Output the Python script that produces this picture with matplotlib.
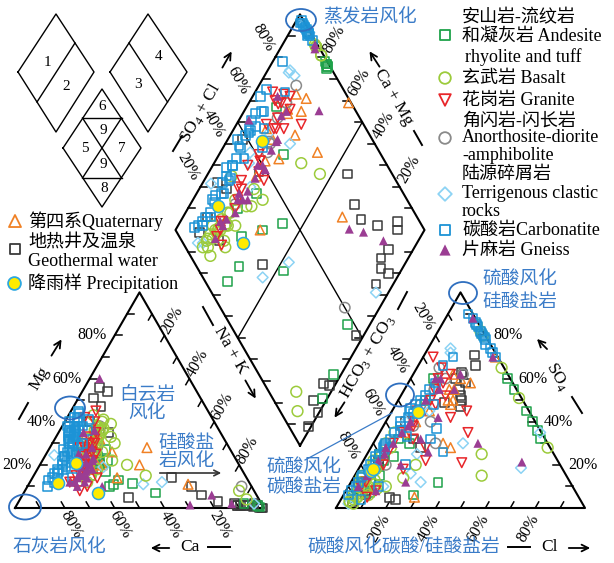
import numpy as np
import matplotlib.pyplot as plt
from matplotlib.patches import Ellipse

plt.rcParams['font.family'] = ['Liberation Serif', 'Noto Sans CJK SC']
plt.rcParams['mathtext.fontset'] = 'custom'
plt.rcParams['mathtext.rm'] = 'Liberation Serif'

# ---- sample data (meq fractions): Ca, Mg (Na+K = rest); SO4, Cl (HCO3 = rest)
carb_ca = [0.58, 0.60, 0.55, 0.62, 0.57, 0.52, 0.60, 0.56, 0.50, 0.63, 0.54, 0.59, 0.53, 0.61,
           0.62, 0.58, 0.66, 0.55, 0.70, 0.60, 0.64, 0.52, 0.68, 0.72, 0.57, 0.63, 0.75, 0.61,
           0.67, 0.54, 0.59, 0.71, 0.78, 0.65, 0.56, 0.69, 0.74, 0.60, 0.66, 0.80, 0.62, 0.58,
           0.70, 0.64, 0.60, 0.58, 0.63, 0.78, 0.74, 0.70, 0.82, 0.68, 0.76]
carb_mg = [0.40, 0.38, 0.42, 0.33, 0.37, 0.44, 0.35, 0.36, 0.41, 0.30, 0.38, 0.33, 0.36, 0.31,
           0.30, 0.36, 0.26, 0.40, 0.22, 0.33, 0.28, 0.45, 0.24, 0.18, 0.38, 0.31, 0.16, 0.35,
           0.27, 0.42, 0.34, 0.20, 0.14, 0.25, 0.37, 0.21, 0.17, 0.29, 0.23, 0.13, 0.32, 0.35,
           0.19, 0.26, 0.36, 0.30, 0.25, 0.12, 0.18, 0.14, 0.10, 0.24, 0.16]
carb_so4 = [0.90, 0.86, 0.84, 0.82, 0.80, 0.78, 0.88, 0.76, 0.74, 0.72, 0.81, 0.79, 0.70, 0.85,
            0.35, 0.42, 0.28, 0.50, 0.20, 0.45, 0.32, 0.55, 0.25, 0.15, 0.48, 0.38, 0.12, 0.40,
            0.30, 0.58, 0.44, 0.18, 0.08, 0.27, 0.52, 0.22, 0.10, 0.36, 0.24, 0.06, 0.46, 0.33,
            0.14, 0.29, 0.70, 0.66, 0.37, 0.04, 0.20, 0.32, 0.10, 0.48, 0.26]
carb_cl = [0.08, 0.13, 0.15, 0.17, 0.19, 0.21, 0.11, 0.22, 0.25, 0.27, 0.18, 0.20, 0.29, 0.14,
           0.06, 0.08, 0.05, 0.09, 0.04, 0.07, 0.06, 0.10, 0.05, 0.03, 0.08, 0.07, 0.03, 0.06,
           0.05, 0.11, 0.09, 0.04, 0.02, 0.06, 0.10, 0.05, 0.03, 0.08, 0.04, 0.02, 0.07, 0.12,
           0.03, 0.05, 0.12, 0.10, 0.22, 0.08, 0.18, 0.22, 0.12, 0.15, 0.30]

geo_ca = [0.30, 0.24, 0.22, 0.17, 0.11, 0.10, 0.09, 0.10, 0.075, 0.04, 0.06,
          0.03, 0.005, 0.01, 0.02, 0.04, 0.02, 0.36, 0.43, 0.42, 0.52, 0.38, 0.45, 0.55, 0.50]
geo_mg = [0.14, 0.10, 0.06, 0.03, 0.02, 0.01, 0.01, 0.01, 0.01, 0.005, 0.01,
          0.02, 0.0, 0.0, 0.01, 0.01, 0.0, 0.54, 0.51, 0.47, 0.05, 0.56, 0.35, 0.25, 0.40]
geo_so4 = [0.62, 0.60, 0.55, 0.63, 0.71, 0.66, 0.58, 0.52, 0.47, 0.50, 0.49,
           0.08, 0.06, 0.03, 0.28, 0.05, 0.04, 0.12, 0.22, 0.25, 0.20, 0.40, 0.32, 0.12, 0.05]
geo_cl = [0.20, 0.18, 0.22, 0.19, 0.20, 0.23, 0.23, 0.24, 0.265, 0.255, 0.19,
          0.08, 0.09, 0.05, 0.20, 0.19, 0.22, 0.04, 0.06, 0.05, 0.07, 0.08, 0.15, 0.03, 0.04]

and_ca = [0.55, 0.60, 0.58, 0.50, 0.62, 0.55, 0.55, 0.40, 0.57, 0.47, 0.52, 0.07, 0.60,
          0.52, 0.56, 0.62, 0.55, 0.015, 0.02]
and_mg = [0.24, 0.18, 0.20, 0.27, 0.15, 0.22, 0.11, 0.07, 0.10, 0.115, 0.13, 0.02, 0.28,
          0.22, 0.20, 0.18, 0.17, 0.005, 0.01]
and_so4 = [0.60, 0.55, 0.45, 0.40, 0.36, 0.32, 0.07, 0.06, 0.05, 0.30, 0.24, 0.12, 0.60,
           0.50, 0.32, 0.22, 0.15, 0.12, 0.25]
and_cl = [0.39, 0.44, 0.54, 0.59, 0.63, 0.66, 0.10, 0.28, 0.04, 0.145, 0.11, 0.35, 0.09,
          0.11, 0.09, 0.08, 0.10, 0.08, 0.05]

bas_ca = [0.50, 0.48, 0.45, 0.52, 0.47, 0.55, 0.44, 0.50, 0.53, 0.46, 0.49, 0.58, 0.42, 0.51,
          0.60, 0.47, 0.54, 0.56, 0.62, 0.48, 0.45, 0.52, 0.55, 0.50, 0.60, 0.52, 0.58, 0.48,
          0.40, 0.45, 0.05, 0.06, 0.55, 0.62, 0.50, 0.58, 0.45, 0.65]
bas_mg = [0.35, 0.38, 0.40, 0.30, 0.36, 0.28, 0.41, 0.33, 0.31, 0.37, 0.34, 0.25, 0.39, 0.32,
          0.22, 0.43, 0.27, 0.29, 0.18, 0.36, 0.33, 0.26, 0.32, 0.36, 0.26, 0.30, 0.24, 0.38,
          0.15, 0.20, 0.04, 0.08, 0.25, 0.15, 0.22, 0.18, 0.30, 0.12]
bas_so4 = [0.08, 0.12, 0.05, 0.15, 0.10, 0.20, 0.06, 0.25, 0.09, 0.14, 0.04, 0.18, 0.11, 0.07,
           0.22, 0.30, 0.13, 0.03, 0.16, 0.09, 0.35, 0.12, 0.82, 0.80, 0.65, 0.51, 0.28, 0.85,
           0.25, 0.15, 0.03, 0.05, 0.02, 0.10, 0.20, 0.06, 0.28, 0.14]
bas_cl = [0.05, 0.04, 0.06, 0.03, 0.08, 0.05, 0.04, 0.06, 0.07, 0.03, 0.05, 0.07, 0.10, 0.06,
          0.04, 0.05, 0.09, 0.04, 0.06, 0.12, 0.06, 0.05, 0.17, 0.19, 0.34, 0.48, 0.71, 0.14,
          0.46, 0.51, 0.04, 0.06, 0.06, 0.15, 0.22, 0.10, 0.08, 0.20]

gra_ca = [0.55, 0.60, 0.50, 0.58, 0.62, 0.52, 0.65, 0.57, 0.48, 0.61, 0.54,
          0.66, 0.59, 0.53, 0.63, 0.56, 0.70, 0.51, 0.64, 0.58, 0.60, 0.45,
          0.68, 0.72, 0.62, 0.66, 0.58, 0.70, 0.60, 0.55]
gra_mg = [0.30, 0.25, 0.35, 0.28, 0.20, 0.32, 0.18, 0.27, 0.40, 0.24, 0.33,
          0.16, 0.22, 0.30, 0.19, 0.26, 0.12, 0.42, 0.21, 0.30, 0.28, 0.45,
          0.15, 0.12, 0.20, 0.10, 0.22, 0.08, 0.14, 0.25]
gra_so4 = [0.55, 0.45, 0.62, 0.35, 0.25, 0.50, 0.15, 0.40, 0.65, 0.30, 0.58,
           0.10, 0.20, 0.48, 0.70, 0.38, 0.12, 0.60, 0.27, 0.35, 0.21, 0.52,
           0.18, 0.08, 0.28, 0.22, 0.32, 0.05, 0.45, 0.42]
gra_cl = [0.12, 0.10, 0.15, 0.09, 0.07, 0.13, 0.06, 0.11, 0.10, 0.08, 0.14,
          0.05, 0.09, 0.16, 0.04, 0.12, 0.06, 0.11, 0.08, 0.355, 0.40, 0.18,
          0.18, 0.12, 0.22, 0.25, 0.15, 0.10, 0.30, 0.25]

ano_ca = [0.55, 0.50, 0.58, 0.52, 0.47, 0.60, 0.04, 0.53, 0.62]
ano_mg = [0.30, 0.35, 0.25, 0.33, 0.38, 0.22, 0.10, 0.28, 0.20]
ano_so4 = [0.55, 0.60, 0.48, 0.62, 0.65, 0.40, 0.38, 0.30, 0.20]
ano_cl = [0.12, 0.14, 0.10, 0.20, 0.09, 0.18, 0.12, 0.25, 0.10]

ter_ca = [0.72, 0.43, 0.35, 0.65, 0.60, 0.55, 0.03, 0.62, 0.60, 0.66, 0.58, 0.70, 0.62, 0.55, 0.68]
ter_mg = [0.245, 0.11, 0.12, 0.26, 0.31, 0.19, 0.02, 0.30, 0.28, 0.20, 0.30, 0.18, 0.24, 0.30, 0.12]
ter_so4 = [0.20, 0.10, 0.16, 0.72, 0.74, 0.54, 0.30, 0.35, 0.186, 0.05, 0.40, 0.02, 0.25, 0.45, 0.12]
ter_cl = [0.05, 0.14, 0.22, 0.10, 0.09, 0.12, 0.36, 0.645, 0.65, 0.03, 0.08, 0.04, 0.20, 0.15, 0.28]

gne_ca = [0.62, 0.65, 0.58, 0.68, 0.60, 0.63, 0.66, 0.57, 0.70, 0.61, 0.64,
          0.59, 0.67, 0.55, 0.36, 0.29, 0.18, 0.12, 0.60, 0.55, 0.62, 0.50,
          0.66, 0.70, 0.60, 0.64, 0.58, 0.72]
gne_mg = [0.18, 0.15, 0.22, 0.14, 0.20, 0.17, 0.16, 0.23, 0.12, 0.21, 0.19,
          0.25, 0.15, 0.28, 0.60, 0.014, 0.06, 0.02, 0.10, 0.35, 0.25, 0.36,
          0.12, 0.10, 0.18, 0.14, 0.22, 0.12]
gne_so4 = [0.30, 0.22, 0.40, 0.15, 0.35, 0.45, 0.25, 0.50, 0.10, 0.38, 0.28,
           0.55, 0.18, 0.60, 0.45, 0.60, 0.55, 0.62, 0.213, 0.30, 0.88, 0.70,
           0.20, 0.12, 0.32, 0.26, 0.42, 0.08]
gne_cl = [0.08, 0.06, 0.10, 0.05, 0.09, 0.12, 0.07, 0.11, 0.04, 0.10, 0.06,
          0.14, 0.05, 0.12, 0.10, 0.10, 0.20, 0.19, 0.64, 0.42, 0.11, 0.28,
          0.16, 0.22, 0.18, 0.24, 0.20, 0.12]

qua_ca = [0.33, 0.25, 0.52, 0.40, 0.60, 0.55, 0.62, 0.58, 0.65, 0.50, 0.57, 0.63, 0.55, 0.48, 0.60]
qua_mg = [0.28, 0.11, 0.14, 0.20, 0.22, 0.28, 0.18, 0.25, 0.15, 0.32, 0.20, 0.24, 0.20, 0.26, 0.18]
qua_so4 = [0.55, 0.50, 0.05, 0.70, 0.45, 0.55, 0.40, 0.60, 0.35, 0.50, 0.62, 0.28, 0.30, 0.48, 0.58]
qua_cl = [0.20, 0.20, 0.29, 0.29, 0.15, 0.18, 0.12, 0.20, 0.10, 0.22, 0.16, 0.32, 0.28, 0.22, 0.25]

pre_ca = [0.65, 0.77, 0.63]
pre_mg = [0.21, 0.116, 0.07]
pre_so4 = [0.445, 0.172, 0.18]
pre_cl = [0.107, 0.055, 0.06]

BLUE = '#3B7CC8'

# ---- geometry (pixel space)
S = 249.0
H = S * np.sqrt(3) / 2
CX0, CY0 = 15.0, 508.0
AX0 = 336.0
BX = (CX0 + S + AX0) / 2
BY = CY0 - (AX0 - CX0 - S) / 2 * np.sqrt(3)


def cat_xy(ca, mg):
    ca, mg = np.asarray(ca), np.asarray(mg)
    nak = 1 - ca - mg
    return CX0 + S * (nak + mg / 2), CY0 - H * mg


def an_xy(so4, cl):
    so4, cl = np.asarray(so4), np.asarray(cl)
    return AX0 + S * (cl + so4 / 2), CY0 - H * so4


def dia_xy(c, s):
    c, s = np.asarray(c), np.asarray(s)
    return BX + S / 2 * (s - c), BY - H * (s + c)


fig = plt.figure(figsize=(6.14, 5.63), dpi=100)
ax = fig.add_axes([0, 0, 1, 1])
ax.set_xlim(0, 614)
ax.set_ylim(563, 0)
ax.axis('off')

lk = dict(color='black', lw=1.5, zorder=1)
# frames
ax.plot([CX0, CX0 + S, CX0 + S / 2, CX0], [CY0, CY0, CY0 - H, CY0], **lk)
ax.plot([AX0, AX0 + S, AX0 + S / 2, AX0], [CY0, CY0, CY0 - H, CY0], **lk)
dx, dy = dia_xy([0, 0, 1, 1, 0], [0, 1, 1, 0, 0])
ax.plot(dx, dy, **lk)
for c0, s0, c1, s1 in [(1, 0.5, 0, 0.5), (0.5, 1, 0.5, 0)]:
    p0, p1 = dia_xy(c0, s0), dia_xy(c1, s1)
    ax.plot([p0[0], p1[0]], [p0[1], p1[1]], color='black', lw=1.0, zorder=1)


def ticks(fn, d, L=7):
    for k in range(1, 10):
        x, y = fn(k / 10)
        ax.plot([x, x + d[0] * L], [y, y + d[1] * L], color='black', lw=1.1, zorder=1)


ticks(lambda v: cat_xy(v, 0), (-0.5, -0.866))
ticks(lambda v: cat_xy(1 - v, v), (1, 0))
ticks(lambda v: cat_xy(0, 1 - v), (-0.5, 0.866))
ticks(lambda v: an_xy(0, v), (0.5, -0.866))
ticks(lambda v: an_xy(1 - v, 0), (0.5, 0.866))
ticks(lambda v: an_xy(v, 1 - v), (-1, 0))
ticks(lambda v: dia_xy(1, v), (1, 0))
ticks(lambda v: dia_xy(v, 1), (-1, 0))
ticks(lambda v: dia_xy(v, 0), (1, 0))
ticks(lambda v: dia_xy(0, v), (-1, 0))

tf = dict(fontsize=11.5, ha='center', va='center', zorder=6)
for v in [0.2, 0.4, 0.6, 0.8]:
    lab = '%d%%' % round(v * 100)
    x, y = cat_xy(v, 0); ax.text(x + 6, y + 17, lab, rotation=-60, **tf)
    x, y = cat_xy(1 - v, v); ax.text(x - 23, y, lab, **tf)
    x, y = cat_xy(0, 1 - v); ax.text(x + 8, y - 15, lab, rotation=60, **tf)
    x, y = an_xy(0, v); ax.text(x - 7, y + 20, lab, rotation=60, **tf)
    x, y = an_xy(1 - v, 0); ax.text(x - 13, y - 19, lab, rotation=-60, **tf)
    x, y = an_xy(v, 1 - v); ax.text(x + 23, y, lab, **tf)
    x, y = dia_xy(1, v); ax.text(x - 12, y - 20, lab, rotation=-60, **tf)
    x, y = dia_xy(v, 1); ax.text(x + 9, y - 18, lab, rotation=60, **tf)

# axis names, dashes and arrows
af = dict(fontsize=12.5, ha='center', va='center', zorder=6)
arr = dict(arrowstyle='->', lw=1.3, color='black', mutation_scale=12)


def dash(x0, y0, x1, y1):
    ax.plot([x0, x1], [y0, y1], color='black', lw=1.4, zorder=6)


def arrow(x0, y0, x1, y1):
    ax.annotate('', xy=(x1, y1), xytext=(x0, y0), arrowprops=arr, zorder=6)


ax.text(40, 378, 'Mg', rotation=60, **af); dash(19, 419, 28, 403); arrow(50, 358, 63, 337)
ax.text(190, 547, 'Ca', **af); arrow(172, 548, 148, 548); dash(208, 547, 230, 547)
ax.text(230, 350, 'Na + K', rotation=-60, **af); dash(203, 307, 213, 325); arrow(244, 378, 257, 401)
ax.text(200, 113, r'SO$_4$ + Cl', rotation=60, **af); dash(182, 136, 173, 151); arrow(221, 70, 233, 49)
ax.text(393, 97, 'Ca + Mg', rotation=-60, **af); arrow(381, 69, 368, 49); dash(414, 131, 422, 145)
ax.text(368, 357, r'HCO$_3$ + CO$_3$', rotation=60, **af); dash(407, 292, 398, 309); arrow(346, 400, 333, 420)
ax.text(557, 377, r'SO$_4$', rotation=-60, **af); arrow(549, 351, 535, 337); dash(572, 397, 582, 413)
ax.text(550, 547, 'Cl', **af); dash(508, 547, 530, 547); arrow(566, 548, 593, 548)

# ---- samples
groups = [
    (geo_ca, geo_mg, geo_so4, geo_cl, dict(marker='s', facecolors='none', edgecolors='#3a3a3a', s=40)),
    (and_ca, and_mg, and_so4, and_cl, dict(marker='s', facecolors='none', edgecolors='#1FA24A', s=40)),
    (qua_ca, qua_mg, qua_so4, qua_cl, dict(marker='^', facecolors='none', edgecolors='#F08125', s=48)),
    (ter_ca, ter_mg, ter_so4, ter_cl, dict(marker='D', facecolors='none', edgecolors='#8CD3F4', s=30)),
    (ano_ca, ano_mg, ano_so4, ano_cl, dict(marker='o', facecolors='none', edgecolors='#8A8A8A', s=55)),
    (bas_ca, bas_mg, bas_so4, bas_cl, dict(marker='o', facecolors='none', edgecolors='#9CCB3B', s=60)),
    (gra_ca, gra_mg, gra_so4, gra_cl, dict(marker='v', facecolors='none', edgecolors='#E8262A', s=48)),
    (carb_ca, carb_mg, carb_so4, carb_cl, dict(marker='s', facecolors='none', edgecolors='#1C93D6', s=40)),
    (gne_ca, gne_mg, gne_so4, gne_cl, dict(marker='^', facecolors='#9B3D93', edgecolors='none', s=42)),
    (pre_ca, pre_mg, pre_so4, pre_cl, dict(marker='o', facecolors='#FFEB00', edgecolors='#2DA8E0', s=75)),
]
for ca, mg, so4, cl, kw in groups:
    c = np.add(ca, mg)
    s = np.add(so4, cl)
    for x, y in (cat_xy(ca, mg), an_xy(so4, cl), dia_xy(c, s)):
        ax.scatter(x, y, linewidths=1.1, zorder=3, **kw)

# ---- blue annotations
bt = dict(color=BLUE, fontsize=13.5, va='center', zorder=7)
ax.text(323, 17, '蒸发岩风化', ha='left', **bt)
ax.text(147, 395, '白云岩', ha='center', **bt)
ax.text(147, 414, '风化', ha='center', **bt)
ax.text(187, 443, '硅酸盐', ha='center', **bt)
ax.text(187, 462, '岩风化', ha='center', **bt)
ax.annotate('', xy=(224, 473), xytext=(157, 473),
            arrowprops=dict(arrowstyle='->', lw=1.2, color='#333333'), zorder=7)
ax.text(13, 548, '石灰岩风化', ha='left', **bt)
ax.text(482, 280, '硫酸风化', ha='left', **bt)
ax.text(482, 302, '硅酸盐岩', ha='left', **bt)
ax.text(304, 468, '硫酸风化', ha='center', **bt)
ax.text(304, 487, '碳酸盐岩', ha='center', **bt)
ax.text(307, 547, '碳酸风化碳酸/硅酸盐岩', ha='left', **bt)
ax.plot([392, 305], [413, 460], color=BLUE, lw=0.9, zorder=7)
for xc, yc, w, h in [(301, 20, 30, 22), (70, 408, 30, 23), (25, 507, 32, 25),
                     (463, 293, 28, 22), (400, 395, 28, 23)]:
    ax.add_patch(Ellipse((xc, yc), w, h, fill=False, edgecolor='#2F6FBF', lw=1.3, zorder=7))

# ---- small key diagrams (top left)
kl = dict(color='black', lw=1.0, zorder=1)
ax.plot([18, 56, 94, 56, 18], [72, 14, 72, 132, 72], **kl)
ax.plot([75, 37], [43, 102], **kl)
ax.plot([110, 148, 187, 148, 110], [72, 14, 72, 132, 72], **kl)
ax.plot([129, 167.5], [43, 102], **kl)
ax.plot([63, 102, 141, 102, 63], [148, 89, 148, 207, 148], **kl)
ax.plot([82.5, 121.5], [118, 118], **kl)
ax.plot([82.5, 121.5], [178, 178], **kl)
ax.plot([82.5, 121.5], [118, 178], **kl)
ax.plot([121.5, 82.5], [118, 178], **kl)
nf = dict(fontsize=11, ha='center', va='center')
for t, x, y in [('1', 47, 62), ('2', 66, 87), ('4', 159, 57), ('3', 138, 85),
                ('6', 102, 106), ('9', 103, 130), ('5', 85, 148), ('7', 122, 148),
                ('9', 103, 165), ('8', 104, 189)]:
    ax.text(x, y, t, **nf)

# ---- legends
lf = dict(fontsize=13, ha='left', va='center', zorder=7)
ax.scatter([15], [221], marker='^', facecolors='none', edgecolors='#F08125', s=75, linewidths=1.3)
ax.text(28, 221, '第四系Quaternary', **lf)
ax.scatter([15], [249], marker='s', facecolors='none', edgecolors='#3a3a3a', s=60, linewidths=1.3)
ax.text(28, 243, '地热井及温泉', **lf)
ax.text(28, 262, 'Geothermal water', **lf)
ax.scatter([14], [283], marker='o', facecolors='#FFEB00', edgecolors='#2DA8E0', s=85, linewidths=1.3)
ax.text(28, 283, '降雨样 Precipitation', **lf)

ax.text(462, 18, '安山岩-流纹岩', **lf)
ax.scatter([445], [35], marker='s', facecolors='none', edgecolors='#1FA24A', s=60, linewidths=1.3)
ax.text(462, 36, '和凝灰岩 Andesite', **lf)
ax.text(465, 57, 'rhyolite and tuff', **lf)
ax.scatter([445], [78], marker='o', facecolors='none', edgecolors='#9CCB3B', s=70, linewidths=1.3)
ax.text(462, 78, '玄武岩 Basalt', **lf)
ax.scatter([445], [100], marker='v', facecolors='none', edgecolors='#E8262A', s=70, linewidths=1.3)
ax.text(462, 100, '花岗岩 Granite', **lf)
ax.text(462, 121, '角闪岩-闪长岩', **lf)
ax.scatter([445], [138], marker='o', facecolors='none', edgecolors='#8A8A8A', s=70, linewidths=1.3)
ax.text(462, 138, 'Anorthosite-diorite', **lf)
ax.text(462, 156, '-amphibolite', **lf)
ax.text(462, 175, '陆源碎屑岩', **lf)
ax.scatter([445], [194], marker='D', facecolors='none', edgecolors='#8CD3F4', s=48, linewidths=1.3)
ax.text(462, 194, 'Terrigenous clastic', **lf)
ax.text(462, 212, 'rocks', **lf)
ax.scatter([445], [230], marker='s', facecolors='none', edgecolors='#1C93D6', s=60, linewidths=1.3)
ax.text(462, 230, '碳酸岩Carbonatite', **lf)
ax.scatter([445], [250], marker='^', facecolors='#9B3D93', edgecolors='none', s=65)
ax.text(462, 250, '片麻岩 Gneiss', **lf)

fig.savefig('out.png', dpi=100)
